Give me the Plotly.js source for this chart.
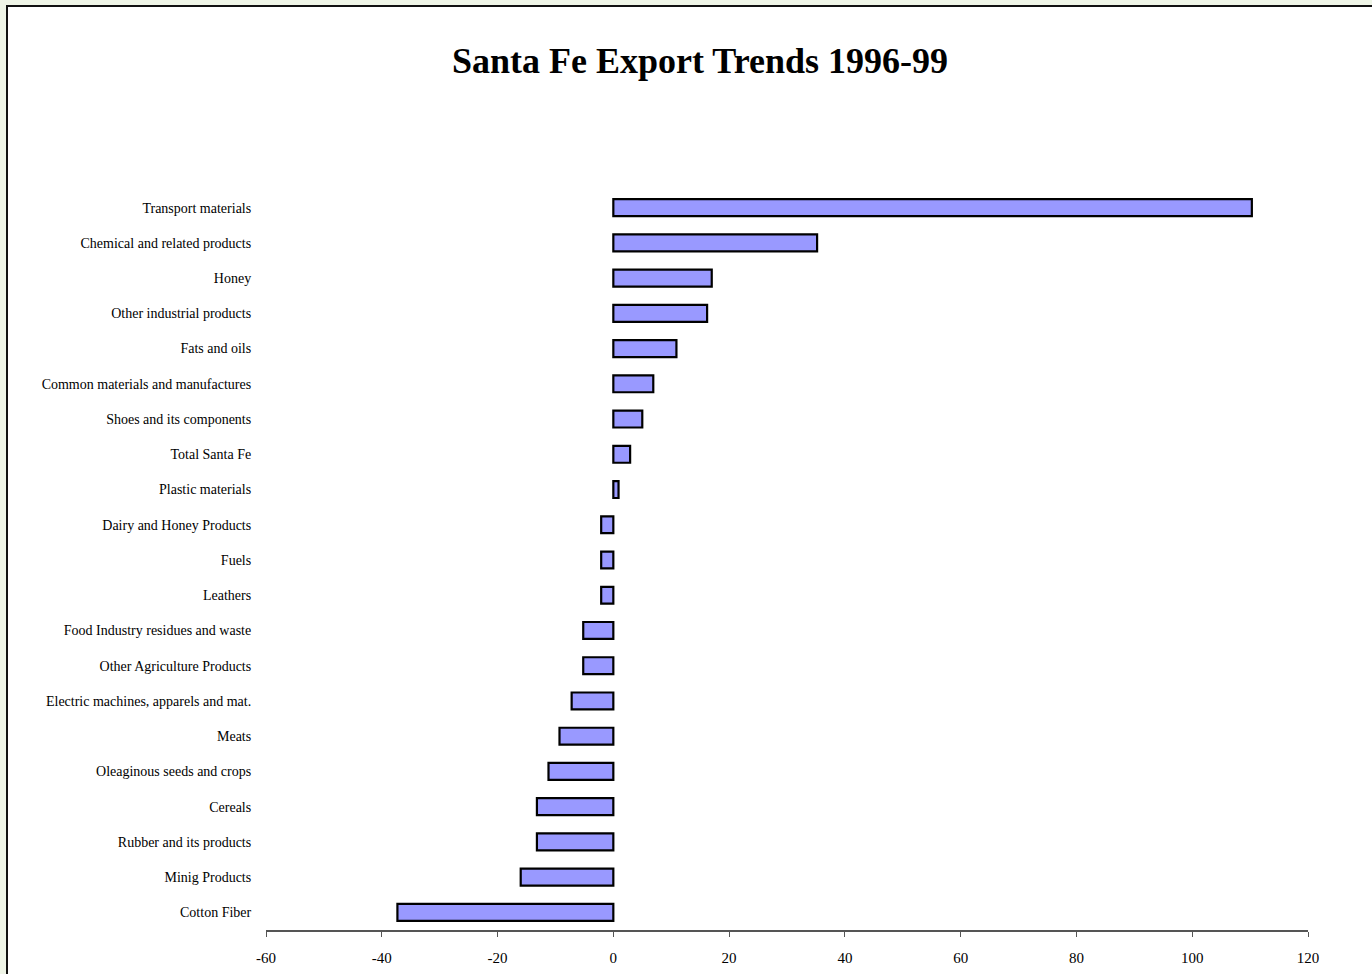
<!DOCTYPE html>
<html>
<head>
<meta charset="utf-8">
<script src="https://cdn.plot.ly/plotly-3.0.1.min.js"></script>
<style>
  html, body { margin: 0; padding: 0; background: #eff5e7; overflow: hidden; }
  #frame { position: absolute; left: 6px; top: 5px; width: 1380px; height: 990px; background: #ffffff; border: 2px solid #111; box-sizing: border-box; }
  #chart { position: absolute; left: 0; top: 0; width: 1372px; height: 974px; }
</style>
</head>
<body>
<div id="frame"></div>
<div id="chart"></div>
<script>
const categories = [
  "Transport materials",
  "Chemical and related products",
  "Honey",
  "Other industrial products",
  "Fats and oils",
  "Common materials and manufactures",
  "Shoes and its components",
  "Total Santa Fe",
  "Plastic materials",
  "Dairy and Honey Products",
  "Fuels",
  "Leathers",
  "Food Industry residues and waste",
  "Other Agriculture Products",
  "Electric machines, apparels and mat.",
  "Meats",
  "Oleaginous seeds and crops",
  "Cereals",
  "Rubber and its products",
  "Minig Products",
  "Cotton Fiber"
];
const changePct = [
  110.3, 35.2, 17.0, 16.2, 10.9, 6.9, 5.0, 2.9, 0.9,
  -2.1, -2.1, -2.1, -5.2, -5.2, -7.2, -9.3, -11.2, -13.2, -13.2, -16.0, -37.3
];
const xTickValues = [-60, -40, -20, 0, 20, 40, 60, 80, 100, 120];

const trace = {
  type: 'bar',
  orientation: 'h',
  y: categories,
  x: changePct,
  width: 0.48,
  marker: { color: '#9999ff', line: { color: '#000000', width: 2.2 } },
  hoverinfo: 'y+x'
};

const layout = {
  width: 1372,
  height: 974,
  paper_bgcolor: 'rgba(0,0,0,0)',
  plot_bgcolor: 'rgba(0,0,0,0)',
  margin: { l: 266, r: 64, t: 190, b: 44 },
  showlegend: false,
  title: {
    text: '<b>Santa Fe Export Trends 1996-99</b>',
    font: { family: 'Liberation Serif, Times New Roman, serif', size: 36, color: '#000' },
    x: 700 / 1372, xanchor: 'center', xref: 'container',
    y: 1 - 60 / 974, yanchor: 'middle', yref: 'container'
  },
  xaxis: {
    range: [-60, 120],
    tickvals: xTickValues,
    ticktext: xTickValues.map(v => v < 0 ? '-' + Math.abs(v) : String(v)),
    showgrid: false,
    zeroline: false,
    showline: true,
    linecolor: '#555',
    linewidth: 1.5,
    ticks: 'outside',
    ticklen: 5,
    tickcolor: '#555',
    ticklabelstandoff: 8,
    tickfont: { family: 'Liberation Serif, Times New Roman, serif', size: 15, color: '#000' },
    fixedrange: true
  },
  yaxis: {
    type: 'category',
    autorange: false,
    range: [categories.length - 0.5, -0.5],
    showgrid: false,
    zeroline: false,
    showline: false,
    ticks: 'outside',
    ticklen: 11,
    tickcolor: 'rgba(0,0,0,0)',
    tickfont: { family: 'Liberation Serif, Times New Roman, serif', size: 14, color: '#000' },
    fixedrange: true
  }
};

Plotly.newPlot('chart', [trace], layout, { displayModeBar: false });
</script>
</body>
</html>
